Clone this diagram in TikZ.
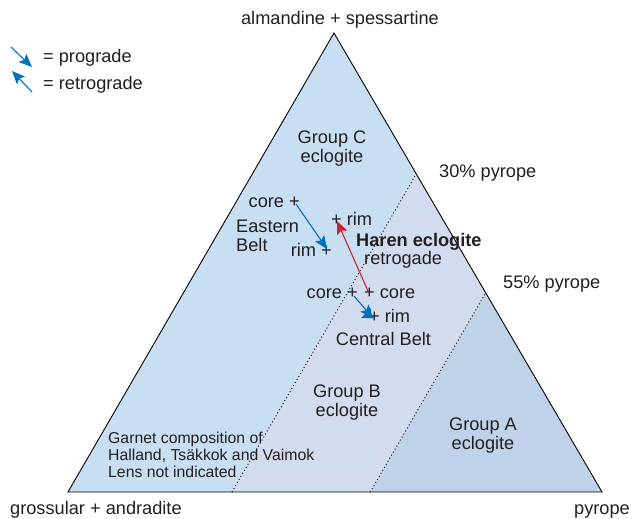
\documentclass[tikz,border=0pt]{standalone}
\usepackage{fontspec}
\setmainfont{Liberation Sans}
\usetikzlibrary{arrows.meta}
\definecolor{regC}{RGB}{200,222,243}
\definecolor{regB}{RGB}{211,220,238}
\definecolor{regA}{RGB}{191,210,234}
\definecolor{txt}{RGB}{35,31,32}
\definecolor{arrblue}{RGB}{0,114,188}
\definecolor{arrred}{RGB}{204,35,48}
\begin{document}
\begin{tikzpicture}[x=1pt,y=-1pt,
  lbl/.style={font=\fontsize{18.2}{18.5}\selectfont, text=txt, inner sep=0pt},
  lblc/.style={lbl, align=center},
  small/.style={font=\fontsize{15.8}{16.8}\selectfont, text=txt, inner sep=0pt, align=left},
  pro/.style={draw=arrblue, line width=1.1pt, -{Stealth[length=13pt,width=11pt,inset=2.5pt]}},
  ret/.style={draw=arrred, line width=1.1pt, -{Stealth[length=13pt,width=11pt,inset=2.5pt]}},
  rimline/.style={draw=black, line width=0.9pt, line join=miter},
  divline/.style={draw=txt, line width=1pt, dash pattern=on 1.1pt off 2.4pt}]
\useasboundingbox (0,0) rectangle (638,519);
% triangle corners and field boundaries
\coordinate (A) at (68,492);
\coordinate (B) at (602,492);
\coordinate (C) at (334,33);
\coordinate (b30) at (231.9,492);
\coordinate (r30) at (416.3,173.9);
\coordinate (b55) at (370.2,492);
\coordinate (r55) at (485.7,292.8);
\fill[regC] (A) -- (b30) -- (r30) -- (C) -- cycle;
\fill[regB] (b30) -- (b55) -- (r55) -- (r30) -- cycle;
\fill[regA] (b55) -- (B) -- (r55) -- cycle;
\draw[divline] (b30) -- (r30);
\draw[divline] (b55) -- (r55);
\draw[rimline] (A) -- (B) -- (C) -- cycle;
% corner labels
\node[lbl, anchor=base] (tl) at (340,25) {almandine + spessartine};
\node[lbl, anchor=base west] (gl) at (10,514) {grossular + andradite};
\node[lbl, anchor=base east] (pl) at (630,514) {pyrope};
\node[lbl, anchor=base west] (p30) at (439,177) {30\% pyrope};
\node[lbl, anchor=base west] (p55) at (503,288) {55\% pyrope};
% legend
\coordinate (lg1a) at (11,47);
\coordinate (lg1b) at (32,67);
\coordinate (lg2a) at (32,92);
\coordinate (lg2b) at (12,71);
\draw[pro] (lg1a) -- (lg1b);
\draw[pro] (lg2a) -- (lg2b);
\node[lbl, anchor=base west] (lgt1) at (43,63) {= prograde};
\node[lbl, anchor=base west] (lgt2) at (43,89) {= retrograde};
% group labels (base = last line)
\node[lblc, anchor=base] (gC) at (332,162) {Group C\\eclogite};
\node[lblc, anchor=base] (gB) at (347,416) {Group B\\eclogite};
\node[lblc, anchor=base] (gA) at (483,449) {Group A\\eclogite};
\node[small, anchor=base west] (note) at (108,477) {Garnet composition of\\Halland, Ts\"akkok and Vaimok\\Lens not indicated};
% Eastern Belt
\node[lbl, anchor=base east] (ec) at (300,207) {core +};
\node[lbl, anchor=base west, align=left] (eb) at (236,251) {Eastern\\Belt};
\node[lbl, anchor=base east] (er) at (332,256) {rim +};
\coordinate (ecp) at (296,204);
\coordinate (erp) at (327,249);
\draw[pro] (ecp) -- (erp);
% Haren eclogite
\node[lbl, anchor=base west] (hr) at (331,225) {+ rim};
\node[lbl, anchor=base west] (ht) at (356,246) {\bfseries Haren eclogite};
\node[lbl, anchor=base west] (hs) at (364,264) {retrogade};
\node[lbl, anchor=base west] (hc) at (364,298) {+ core};
\coordinate (hcp) at (368,291);
\coordinate (hrp) at (337,221);
\draw[ret] (hcp) -- (hrp);
% Central Belt
\node[lbl, anchor=base east] (cc) at (358,298) {core +};
\node[lbl, anchor=base west] (cr) at (369,322) {+ rim};
\node[lbl, anchor=base] (cb) at (383.5,345) {Central Belt};
\coordinate (ccp) at (354,296);
\coordinate (crp) at (373,318);
\coordinate (crq) at (371,314);
\coordinate (crs) at (361,318);
\draw[pro] (ccp) -- (crp);
\draw[pro] (crq) -- (crs);
\end{tikzpicture}
\end{document}
